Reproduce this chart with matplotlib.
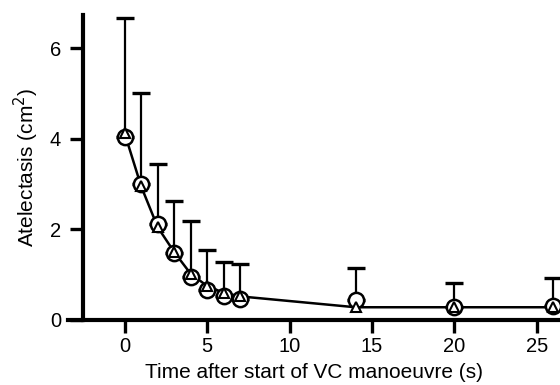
import matplotlib
matplotlib.use("Agg")
import matplotlib.pyplot as plt
import numpy as np

time_s = [0, 1, 2, 3, 4, 5, 6, 7, 14, 20, 26]
circle_vals = [4.03, 3.0, 2.12, 1.48, 0.95, 0.66, 0.52, 0.47, 0.44, 0.29, 0.31]
triangle_vals = [4.12, 2.95, 2.05, 1.5, 1.02, 0.75, 0.6, 0.52, 0.28, 0.28, 0.28]
err_upper_cap = [6.67, 5.0, 3.44, 2.63, 2.19, 1.54, 1.28, 1.24, 1.15, 0.81, 0.93]
xticks = [0, 5, 10, 15, 20, 25]
yticks = [0, 2, 4, 6]

plt.rcParams['font.family'] = ['Liberation Sans', 'DejaVu Sans']

fig = plt.figure(figsize=(5.6, 3.85), dpi=100)
ax = fig.add_axes([0.121, 0.169, 0.879, 0.792])

err = [c - v for c, v in zip(err_upper_cap, circle_vals)]
ax.errorbar(time_s, circle_vals, yerr=[np.zeros(len(err)), err], fmt='none',
            ecolor='black', elinewidth=1.6, capsize=6.5, capthick=2.4, zorder=2)
ax.plot(time_s, triangle_vals, color='black', lw=1.8, zorder=3)
ax.plot(time_s, circle_vals, linestyle='none', marker='o', markersize=11,
        markerfacecolor='white', markeredgecolor='black', markeredgewidth=1.8, zorder=4)
ax.plot(time_s, triangle_vals, linestyle='none', marker='^', markersize=6.5,
        markerfacecolor='white', markeredgecolor='black', markeredgewidth=1.5, zorder=5)

ax.set_xlim(-3.45, 26.4)
ax.set_ylim(0, 6.73)
ax.spines['left'].set_position(('data', -2.55))
ax.set_xticks(xticks)
ax.set_yticks(yticks)
for s in ['top', 'right']:
    ax.spines[s].set_visible(False)
for s in ['left', 'bottom']:
    ax.spines[s].set_linewidth(3)
ax.tick_params(direction='out', length=9.5, width=2.4, labelsize=14.5)
ax.tick_params(axis='x', pad=3)
ax.tick_params(axis='y', pad=6)
ax.set_xlabel('Time after start of VC manoeuvre (s)', fontsize=15, labelpad=5)
ax.set_ylabel('Atelectasis (cm$^2$)', fontsize=15, labelpad=6)
for sp in ax.spines.values():
    sp.set_clip_on(False)

fig.savefig('out.png', dpi=100)
